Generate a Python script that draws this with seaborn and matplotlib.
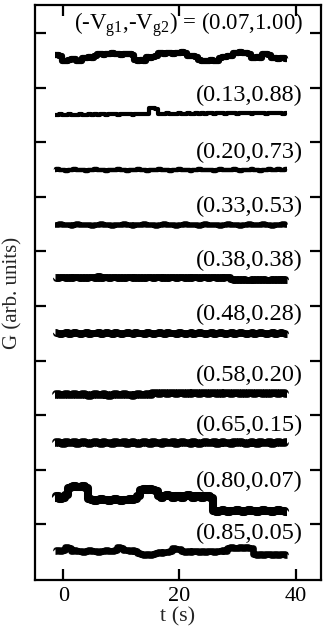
import numpy as np
import pandas as pd
import matplotlib
matplotlib.use("Agg")
import matplotlib.pyplot as plt
import seaborn as sns

# ---------------- data ----------------
t = np.arange(-1.5, 38.6, 0.5)  # sampling times (s), 81 points

labels = [r"(-V$_\mathrm{g1}$,-V$_\mathrm{g2}$) = (0.07,1.00)",
          "(0.13,0.88)", "(0.20,0.73)", "(0.33,0.53)", "(0.38,0.38)",
          "(0.48,0.28)", "(0.58,0.20)", "(0.65,0.15)", "(0.80,0.07)",
          "(0.85,0.05)"]

# conductance fluctuations (arb. units, 1/50 of tick spacing)
g1 = [2, 2, 1, -4, -4, -3, -2, -2, -4, -4, -1, -1, 0, -1, 1, 3, 3, 2, 3, 3,
      4, 3, 3, 2, 3, 3, 3, 2, -3, -4, -3, -4, 0, -1, 0, 1, 4, 4, 3, 4,
      4, 3, 4, 4, 5, 4, 1, 1, 1, 0, -3, -4, -4, -4, -3, -4, -4, -1, 0, 0,
      1, 1, 4, 4, 5, 4, 4, 3, -1, -1, 0, -1, 3, 3, 2, -1, -1, -2, -1, -1, -2]
g2 = [-1, -1, 0, -1, -1, 0, -1, -1, -1, 0, -1,
      -1, 0, -1, 0, -1, 0, 0, -1, 0, 0,
      0, -1, 0, 0, 0, 0, -1, 0, 0, 0, 0, 0,
      5, 5, 4,
      0, 0, 0, 1, 0, 0, 0, 1, 0, 0, 1, 0, 0, 1, 0,
      1, 0, 1, 1, 0, 1, 1, 1, 0, 1, 1, 1, 0, 1, 1, 1, 1, 0, 1, 1, 1, 1, 0, 1, 1, 1, 1, 1, 0, 1]
g3 = [0, 1, 0, 0, -1, 0, 0, 1, 0, 0, 0, -1, 0, 0, 1, 0, 0, 0, -1, 0,
      0, 0, 1, 0, 0, -1, 0, 0, 0, 1, 0, 0, -1, 0, 0, 0, 1, 0, 0, 0,
      -1, 0, 0, 1, 0, 0, 0, -1, 0, 0, 1, 0, 0, 0, 0, -1, 0, 1, 0, 0,
      0, 0, 1, 0, -1, 0, 0, 0, 1, 0, 0, -1, 0, 0, 1, 0, 0, 1, 0, 0, 1]
g4 = [0, 0, 1, 0, 0, 0, -1, 0, 1, 0, 0, 0, 0, -1, 0, 0, 1, 0, 0, 0,
      -1, 0, 0, 0, 1, 0, 0, -1, 0, 0, 0, 1, 0, 0, 0, -1, 0, 0, 1, 0,
      0, 0, -1, 0, 0, 1, 0, 0, 0, 0, -1, 0, 1, 0, 0, 0, 0, -1, 0, 0,
      1, 0, 0, 0, -1, 0, 0, 1, 0, 0, 0, 0, 1, 0, 0, -1, 0, 0, 0, 1, 0]
g5 = [1, 0, 1, 1, 0, 1, 0, 1, 1, 0, 1, 0, 1, 1, 0, 2, 0, 1, 1, 0,
      1, 1, 0, 1, 0, 1, 1, 0, 1, 0, 1, 0, 1, 1, 0, 1, 1, 0, 1, 0,
      1, 1, 0, 1, 1, 0, 1, 0, 1, 1, 0, 1, 1, 0, 1, 1, 0, 1, 0, 1,
      1, -1, -2, -1, -2, -1, -2, -2, -1, -2, -1, -2, -1, -2, -2, -1, -2, -1, -2, -1, -2]
g6 = [1, 0, -1, 0, 1, -1, 0, 1, 0, -1, 0, 1, -1, 0, 0, 1, -1, 0, 1, 0,
      -1, 1, 0, -1, 0, 1, 0, -1, 1, 0, 0, -1, 1, 0, -1, 0, 1, 0, -1, 1,
      0, 0, -1, 1, 0, -1, 0, 1, -1, 0, 1, 0, -1, 0, 1, -1, 0, 1, 0, -1,
      0, 1, -1, 0, 1, 0, -1, 0, 1, -1, 0, 1, 0, -1, 0, 1, -1, 0, 1, 0, -1]
g7 = [-1, 0, -1, -1, 0, -1, -1, 0, -1, -1, 0, -1, -2, -1, 0, -1, -1, 0, -1, -2,
      -1, 0, -1, -1, 0, -1, -1, -2, -1, 0, -1, -1, 0, -1, 1, 1, 0, 1, 1, 0,
      1, 1, 0, 1, 1, 0, 1, 0, 1, 1, 0, 1, 1, 0, 1, 1, 0, 1, 0, 1,
      1, 0, 1, 1, 0, 1, 0, 1, 1, 0, 1, 1, 0, 1, 0, 1, 1, 0, 1, 1, 0]
g8 = [0, 1, 0, -1, 1, 0, 0, 1, -1, 0, 1, 0, -1, 0, 1, 0, -1, 1, 0, 0,
      -1, 1, 0, 0, 1, -1, 0, 1, 0, -1, 0, 1, 0, -1, 1, 0, 0, -1, 1, 0,
      0, 1, -1, 0, 1, 0, 0, -1, 1, 0, -1, 0, 1, 0, 0, 1, -1, 0, 1, 0,
      0, -1, 1, 0, 1, 0, -1, 0, 1, 0, -1, 1, 0, 0, 1, -1, 0, 1, 0, 0, 1]
g9 = [2, 3, 1, 2, 4,
      11, 12, 13, 12, 12, 13, 11,
      1, 0, -1, 0, 1, 0, 0, -1, 0, 1, 0, -1, 0, 0, 1, 0, 1, 3,
      9, 10, 9, 10, 9, 8,
      3, 2, 3, 4, 3, 2, 3, 3, 2, 3, 4, 3, 2, 3, 3, 2, 3, 3, 2,
      -10, -11, -10, -9, -10, -11, -10, -10, -9, -10, -11, -10, -9, -10, -10,
      -11, -10, -9, -10, -10, -11, -10, -9, -10, -10, -11]
g10 = [0, 1, 0, 1,
       4, 3,
       0, 1, 0, 0, -1, 0, 1, 0, 0, -1, 0, 0, 1, 0, 0, 1,
       4, 3,
       1, 1, 0, 1, 0,
       -2, -3, -4, -3, -4, -3, -2,
       -1, -2, -1, -1, 0,
       3, 2, 2,
       0, -1, 0, -1, 0, 0, -1, 0, -1, 0, 0, -1, 0, 0, 1, 0,
       3, 4, 3, 3, 4, 3, 4, 3, 3,
       -3, -4, -3, -4, -3, -3, -4, -3, -4, -3, -3, -4]

traces = [g1, g2, g3, g4, g5, g6, g7, g8, g9, g10]

# ---------------- presentation ----------------
offsets = [9.56, 8.52, 7.49, 6.49, 5.51, 4.51, 3.39, 2.49, 1.45, 0.51]
widths = [4.5, 3.0, 3.2, 4.0, 5.0, 5.0, 5.5, 5.5, 5.8, 4.8]

sns.set_theme(style="ticks")
plt.rcParams["font.family"] = ["Liberation Serif", "DejaVu Serif"]
plt.rcParams["mathtext.fontset"] = "custom"
plt.rcParams["mathtext.rm"] = "Liberation Serif"
plt.rcParams["mathtext.it"] = "Liberation Serif:italic"

fig = plt.figure(figsize=(3.23, 6.39), dpi=100)
ax = fig.add_axes([0.108, 0.0923, 0.886, 0.8997])

for i, g in enumerate(traces):
    df = pd.DataFrame({"t": t, "G": offsets[i] + np.array(g) / 50.0})
    sns.lineplot(data=df, x="t", y="G", ax=ax, color="black",
                 linewidth=widths[i], drawstyle="steps-mid",
                 estimator=None, solid_capstyle="butt")

for i, lab in enumerate(labels):
    y = offsets[i] + (0.59 if i == 0 else 0.33)
    ax.text(41.3, y, lab, ha="right", va="center",
            fontsize=(16.5 if i == 0 else 17.5), color="black")

ax.set_xlim(-4.9, 44.4)
ax.set_ylim(-0.02, 10.51)
ax.set_xticks([0, 20, 40])
ax.set_yticks(range(1, 11))
ax.set_yticklabels([])
ax.tick_params(direction="in", length=8, width=1.6, top=True, right=True,
               labelsize=16, colors="black", pad=5)
for s in ax.spines.values():
    s.set_linewidth(1.6)
    s.set_color("black")
ax.set_xlabel("t (s)", fontsize=16, labelpad=1)
ax.set_ylabel("G (arb. units)", fontsize=15)
ax.yaxis.set_label_coords(-0.045, 0.5)

fig.savefig("out.png", dpi=100)
